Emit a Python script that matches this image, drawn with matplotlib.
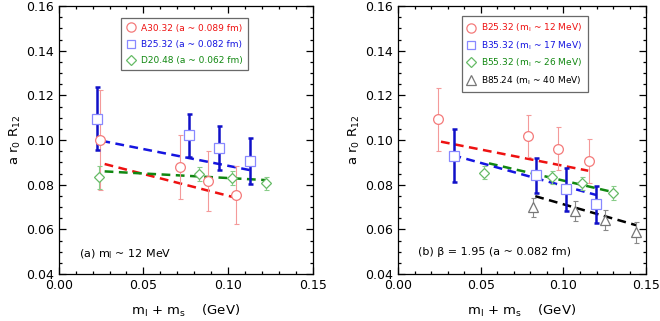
import matplotlib
matplotlib.use('Agg')
import matplotlib.pyplot as plt
from matplotlib.ticker import MultipleLocator
from matplotlib.lines import Line2D

plt.rcParams['font.family'] = ['DejaVu Sans']
plt.rcParams['mathtext.default'] = 'regular'

# ---- panel (a): m_l ~ 12 MeV, different lattice spacings
a_red_x = [0.0246, 0.0714, 0.0881, 0.1048]
a_red_y = [0.1000, 0.0878, 0.0818, 0.0754]
a_red_e = [0.0224, 0.0143, 0.0135, 0.0130]
a_red_fit_x = [0.0271, 0.1040]
a_red_fit_y = [0.0893, 0.0743]

a_blue_x = [0.0228, 0.0767, 0.0946, 0.1130]
a_blue_y = [0.1096, 0.1021, 0.0964, 0.0907]
a_blue_e = [0.0142, 0.0095, 0.0097, 0.0103]
a_blue_fit_x = [0.0252, 0.1127]
a_blue_fit_y = [0.0997, 0.0866]

a_green_x = [0.0238, 0.0828, 0.1024, 0.1225]
a_green_y = [0.0833, 0.0848, 0.0830, 0.0806]
a_green_e = [0.0050, 0.0030, 0.0030, 0.0028]
a_green_fit_x = [0.0271, 0.1225]
a_green_fit_y = [0.0860, 0.0821]

a_labels = ['A30.32 (a ~ 0.089 fm)', 'B25.32 (a ~ 0.082 fm)', 'D20.48 (a ~ 0.062 fm)']

# ---- panel (b): beta = 1.95, different light masses
b_red_x = [0.0240, 0.0786, 0.0966, 0.1154]
b_red_y = [0.1093, 0.1018, 0.0961, 0.0906]
b_red_e = [0.0140, 0.0095, 0.0097, 0.0100]
b_red_fit_x = [0.0260, 0.1150]
b_red_fit_y = [0.0993, 0.0863]

b_blue_x = [0.0336, 0.0834, 0.1016, 0.1198]
b_blue_y = [0.0930, 0.0843, 0.0779, 0.0713]
b_blue_e = [0.0118, 0.0079, 0.0096, 0.0082]
b_blue_fit_x = [0.0330, 0.1200]
b_blue_fit_y = [0.0933, 0.0754]

b_green_x = [0.0522, 0.0930, 0.1114, 0.1302]
b_green_y = [0.0854, 0.0833, 0.0806, 0.0764]
b_green_e = [0.0030, 0.0030, 0.0028, 0.0030]
b_green_fit_x = [0.0550, 0.1290]
b_green_fit_y = [0.0896, 0.0769]

b_black_x = [0.0814, 0.1070, 0.1250, 0.1440]
b_black_y = [0.0699, 0.0682, 0.0642, 0.0587]
b_black_e = [0.0043, 0.0045, 0.0045, 0.0047]
b_black_fit_x = [0.0830, 0.1440]
b_black_fit_y = [0.0749, 0.0619]

b_labels = ['B25.32 (m$_l$ ~ 12 MeV)', 'B35.32 (m$_l$ ~ 17 MeV)',
            'B55.32 (m$_l$ ~ 26 MeV)', 'B85.24 (m$_l$ ~ 40 MeV)']

# styles: (marker, size, marker colour, errorbar colour, errorbar width, line colour)
red = ('o', 7, '#f47a7a', '#f49a9a', 0.8, '#ee1111')
blue = ('s', 6.5, '#8888ff', '#1010c8', 1.8, '#1515e0')
green = ('D', 5.5, '#66bb66', '#88cc88', 0.8, '#118811')
black = ('^', 7, '#777777', '#888888', 0.8, '#000000')


def draw_series(ax, x, y, e, fx, fy, style):
    mk, ms, mc, ec, ew, lc = style
    ax.plot(fx, fy, ls=(0, (3.5, 2.2)), color=lc, lw=1.8, zorder=2)
    ax.errorbar(x, y, yerr=e, fmt='none', ecolor=ec, elinewidth=ew,
                capsize=1.8, capthick=ew, zorder=3)
    ax.plot(x, y, ls='none', marker=mk, ms=ms, mfc='white', mec=mc,
            mew=0.9, zorder=4)


def style_axes(ax):
    ax.set_xlim(0, 0.15)
    ax.set_ylim(0.04, 0.16)
    ax.xaxis.set_major_locator(MultipleLocator(0.05))
    ax.xaxis.set_minor_locator(MultipleLocator(0.01))
    ax.yaxis.set_major_locator(MultipleLocator(0.02))
    ax.yaxis.set_minor_locator(MultipleLocator(0.005))
    ax.xaxis.set_major_formatter(plt.FuncFormatter(lambda v, p: f'{v:.2f}'))
    ax.yaxis.set_major_formatter(plt.FuncFormatter(lambda v, p: f'{v:.2f}'))
    ax.tick_params(which='both', direction='in', top=True, right=True,
                   labelsize=9, width=0.9)
    ax.tick_params(which='major', length=5)
    ax.tick_params(which='minor', length=2.5)
    for s in ax.spines.values():
        s.set_linewidth(0.9)
    ax.set_xlabel('m$_l$ + m$_s$    (GeV)', fontsize=9.5, labelpad=8)
    ax.set_ylabel('a r$_0$ R$_{12}$', fontsize=9.5, labelpad=2)


def add_legend(ax, styles, labels, anchor, spacing):
    handles = [Line2D([], [], ls='none', marker=s[0], ms=s[1] * 0.95,
                      mfc='white', mec=s[2], mew=0.9) for s in styles]
    leg = ax.legend(handles, labels, loc='upper left', bbox_to_anchor=anchor,
                    fontsize=6.5, frameon=True, fancybox=False,
                    handlelength=1.0, handletextpad=0.6, labelspacing=spacing,
                    borderpad=0.6, borderaxespad=0)
    leg.get_frame().set_edgecolor('#444444')
    leg.get_frame().set_linewidth(0.9)
    for t, s in zip(leg.get_texts(), styles):
        t.set_color(s[5])


fig = plt.figure(figsize=(6.6, 3.21), dpi=100)
ax1 = fig.add_axes([0.089, 0.146, 0.385, 0.835])
ax2 = fig.add_axes([0.603, 0.146, 0.376, 0.835])

draw_series(ax1, a_red_x, a_red_y, a_red_e, a_red_fit_x, a_red_fit_y, red)
draw_series(ax1, a_green_x, a_green_y, a_green_e, a_green_fit_x, a_green_fit_y, green)
draw_series(ax1, a_blue_x, a_blue_y, a_blue_e, a_blue_fit_x, a_blue_fit_y, blue)
style_axes(ax1)
add_legend(ax1, [red, blue, green], a_labels, (0.244, 0.955), 0.8)
ax1.text(0.012, 0.0475, '(a) m$_l$ ~ 12 MeV', fontsize=8)

draw_series(ax2, b_red_x, b_red_y, b_red_e, b_red_fit_x, b_red_fit_y, red)
draw_series(ax2, b_green_x, b_green_y, b_green_e, b_green_fit_x, b_green_fit_y, green)
draw_series(ax2, b_black_x, b_black_y, b_black_e, b_black_fit_x, b_black_fit_y, black)
draw_series(ax2, b_blue_x, b_blue_y, b_blue_e, b_blue_fit_x, b_blue_fit_y, blue)
style_axes(ax2)
add_legend(ax2, [red, blue, green, black], b_labels, (0.256, 0.962), 0.55)
ax2.text(0.012, 0.0485, '(b) β = 1.95 (a ~ 0.082 fm)', fontsize=8)

fig.savefig('out.png', dpi=100)
